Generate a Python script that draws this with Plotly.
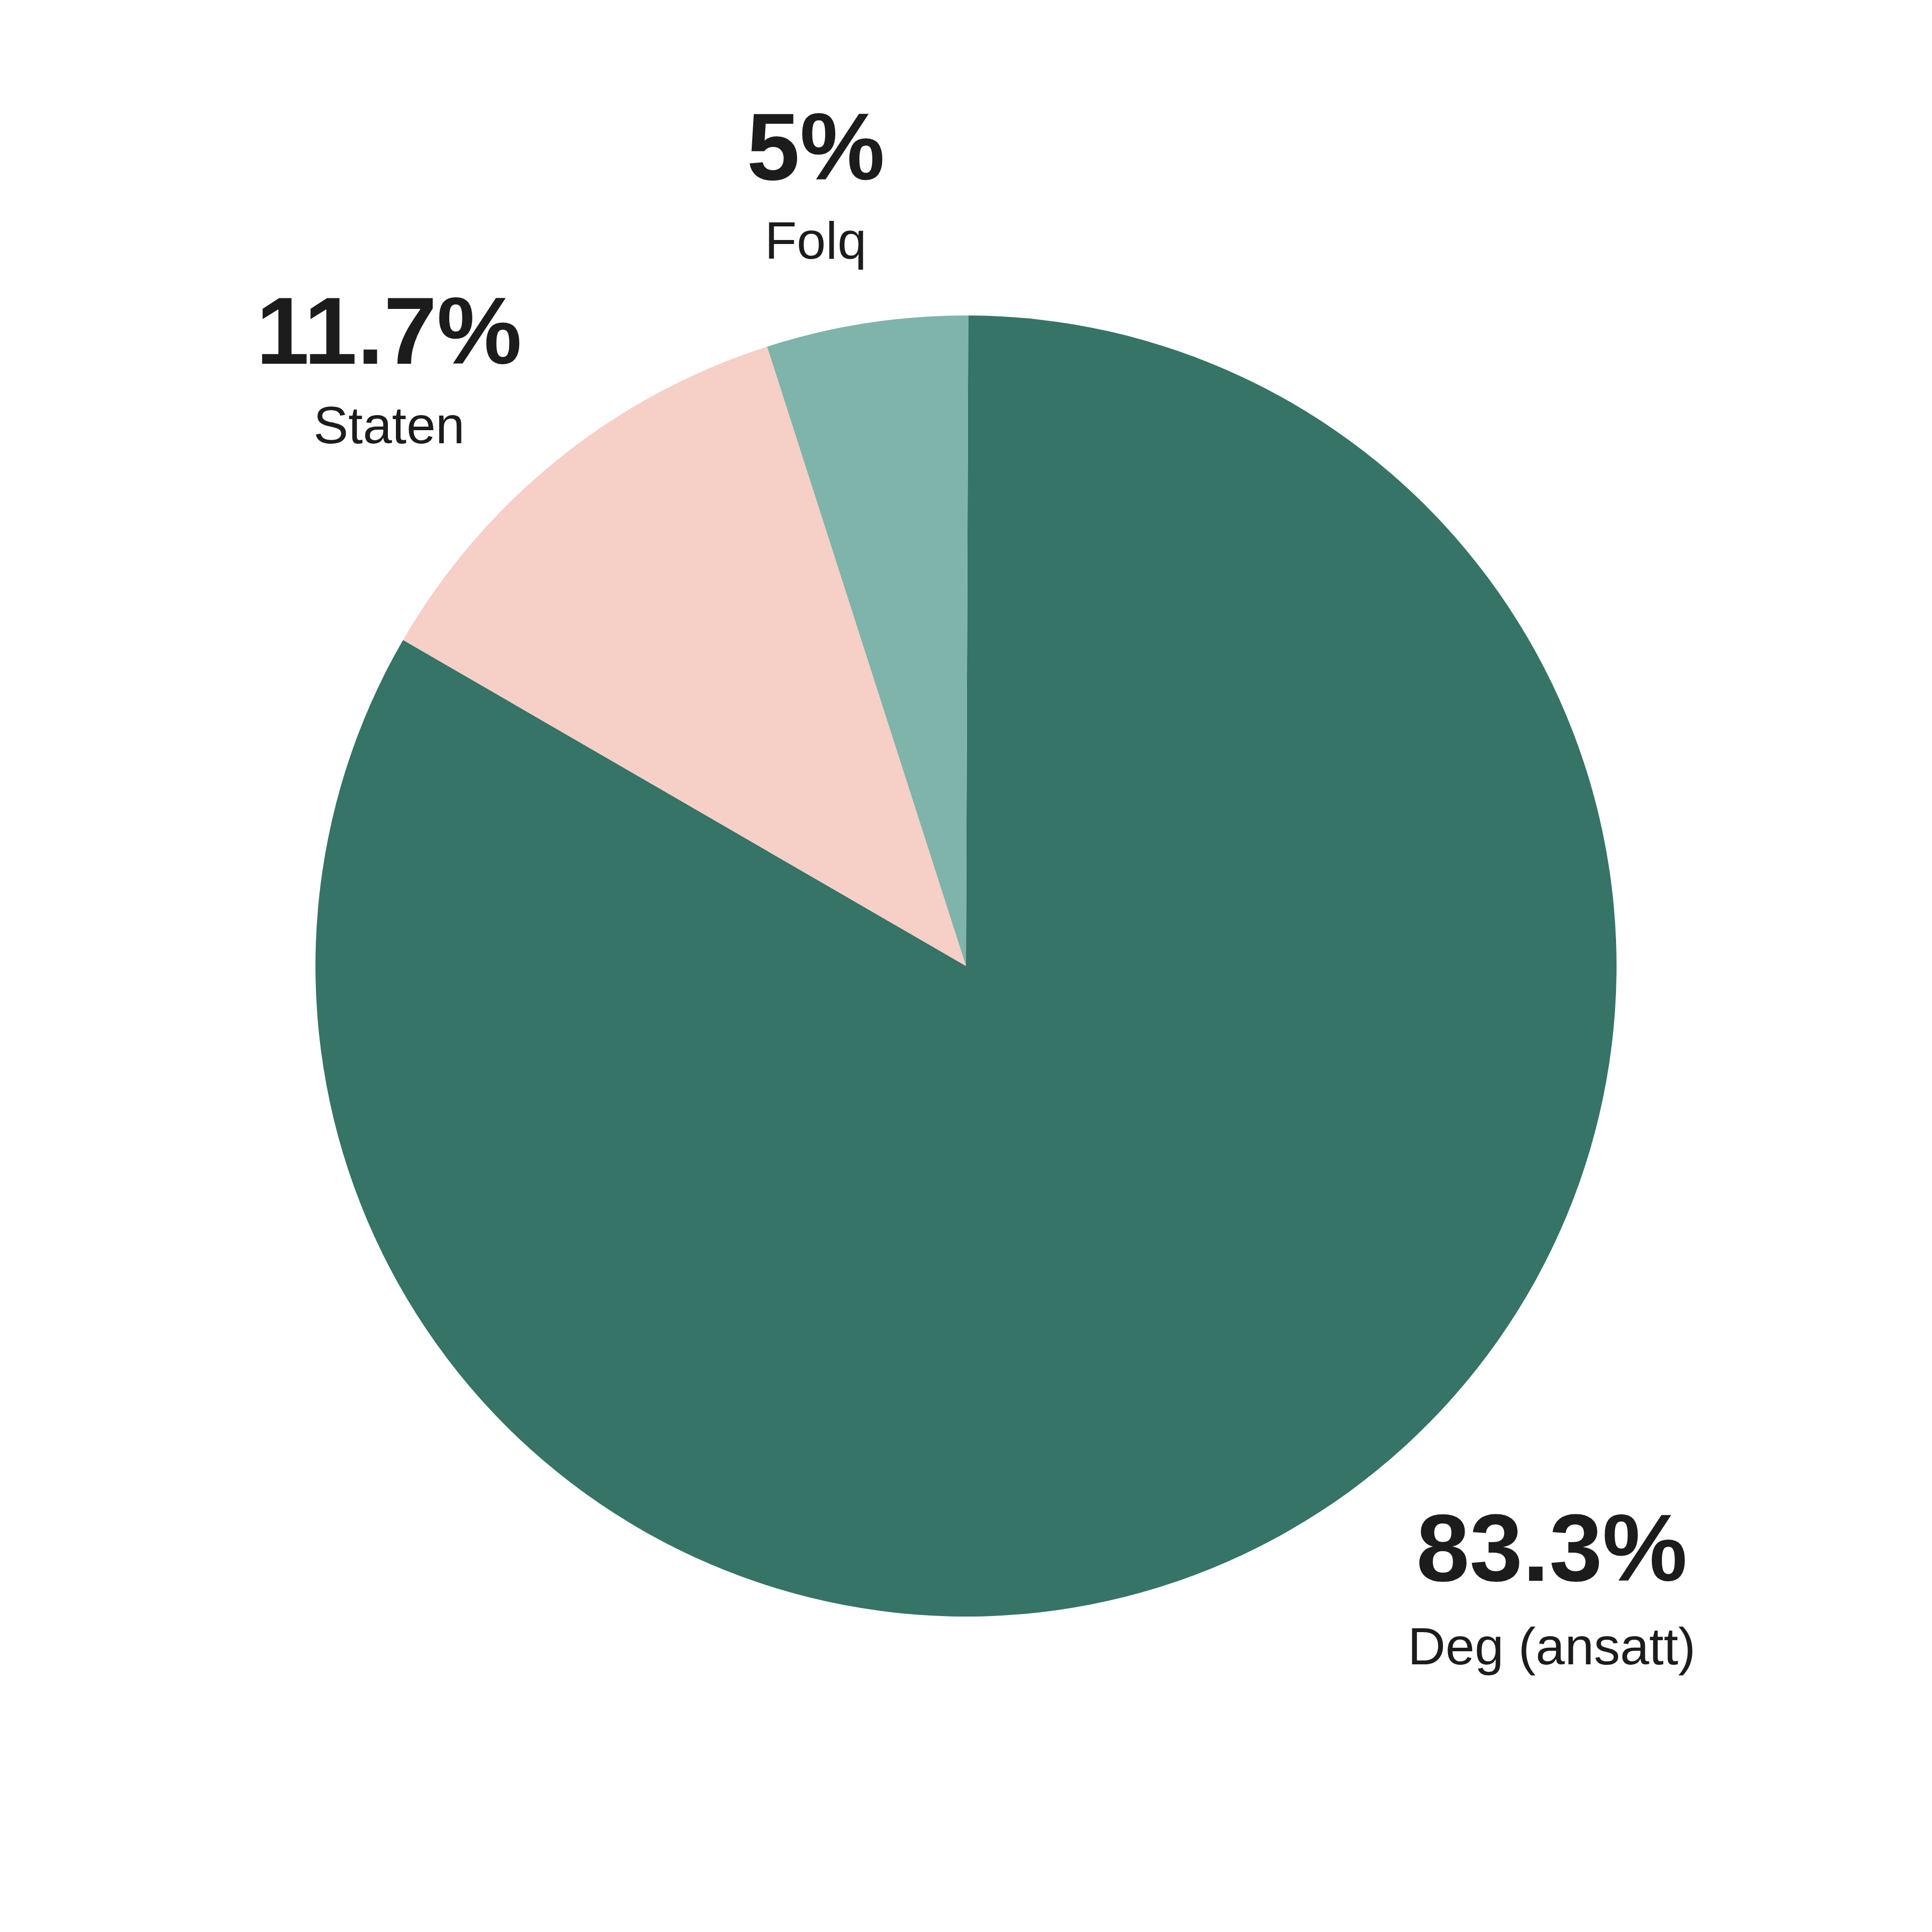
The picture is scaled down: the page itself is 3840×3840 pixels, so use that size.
import plotly.graph_objects as go

labels = ["Deg (ansatt)", "Staten", "Folq"]
values = [83.3, 11.7, 5.0]
pct_text = ["83.3%", "11.7%", "5%"]
colors = ["#357467", "#f6cfc7", "#7fb4aa"]

W = 3840.0
OFF = 8.0  # default body margin of the written html page

# label centres in page pixels: (x, y of percentage, y of name)
label_pos = {
    "Deg (ansatt)": (3084, 3076, 3272),
    "Staten": (773, 657, 845),
    "Folq": (1621, 291, 478),
}

cx, cy, R = 1920.0 - OFF, 1920.0 - OFF, 1293.0
fig = go.Figure(go.Pie(
    labels=labels,
    values=values,
    sort=False,
    direction="clockwise",
    rotation=0.2,
    marker=dict(colors=colors, line=dict(width=0)),
    textinfo="none",
    hoverinfo="label+percent",
    showlegend=False,
    domain=dict(x=[(cx - R) / W, (cx + R) / W],
                y=[(W - cy - R) / W, (W - cy + R) / W]),
))

FONT = "Liberation Sans, Arial, Helvetica, sans-serif"
annotations = []
for lab, pt in zip(labels, pct_text):
    xp, yp, yn = label_pos[lab]
    annotations.append(dict(
        text=f"<b>{pt}</b>", x=(xp - OFF) / W, y=1 - (yp - OFF) / W,
        xref="paper", yref="paper",
        xanchor="center", yanchor="middle", showarrow=False,
        font=dict(family=FONT, size=190, color="#1c1c1c"),
    ))
    annotations.append(dict(
        text=lab, x=(xp - OFF) / W, y=1 - (yn - OFF) / W,
        xref="paper", yref="paper",
        xanchor="center", yanchor="middle", showarrow=False,
        font=dict(family=FONT, size=104, color="#1c1c1c"),
    ))

fig.update_layout(
    width=3840, height=3840,
    margin=dict(l=0, r=0, t=0, b=0),
    paper_bgcolor="white",
    plot_bgcolor="white",
    annotations=annotations,
)

fig.write_html("out.html")
